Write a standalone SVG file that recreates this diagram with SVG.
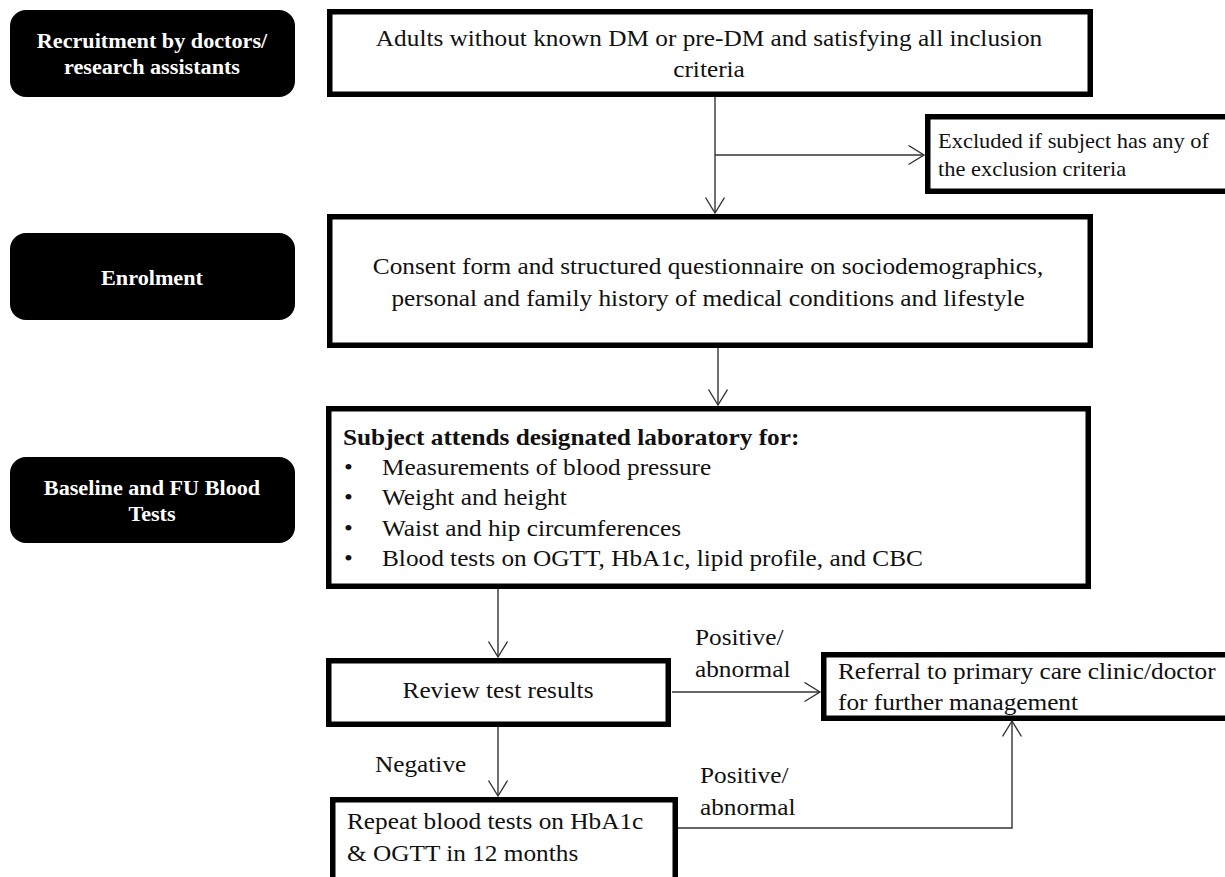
<svg xmlns="http://www.w3.org/2000/svg" width="1225" height="877" viewBox="0 0 1225 877">
<defs>
<style>
.lab{fill:#000}
.labt{fill:#fff;font-family:"Liberation Serif","Times New Roman",serif;font-weight:bold;font-size:20px;text-anchor:middle}
.box{fill:#fff;stroke:#000;stroke-width:5.5}
.t{font-family:"Liberation Serif","Times New Roman",serif;font-size:23px;fill:#111}
.s{font-size:20.4px}
.tc{text-anchor:middle}
.b{font-weight:bold}
.c{fill:none;stroke:#333;stroke-width:1.4}
</style>
<marker id="ah" markerUnits="userSpaceOnUse" markerWidth="20" markerHeight="22" refX="16" refY="10" orient="auto">
<path d="M0.5,0.5 L16,10 L0.5,19.5" fill="none" stroke="#333" stroke-width="1.4"/>
</marker>
</defs>
<rect width="1225" height="877" fill="#fff"/>

<g id="lab-recruit">
<rect class="lab" x="10" y="10" width="285" height="87" rx="16"/>
<text class="labt" transform="translate(152 48) scale(1.11 1)">Recruitment by doctors/</text>
<text class="labt" transform="translate(152 74) scale(1.11 1)">research assistants</text>
</g>
<g id="lab-enrol">
<rect class="lab" x="10" y="233" width="285" height="87" rx="16"/>
<text class="labt" transform="translate(152 285) scale(1.11 1)">Enrolment</text>
</g>
<g id="lab-baseline">
<rect class="lab" x="10" y="457" width="285" height="86" rx="16"/>
<text class="labt" transform="translate(152 495) scale(1.11 1)">Baseline and FU Blood</text>
<text class="labt" transform="translate(152 521) scale(1.11 1)">Tests</text>
</g>

<g id="n-adults">
<rect class="box" x="329.75" y="11.75" width="760.5" height="82.5"/>
<text class="t tc" transform="translate(709 46) scale(1.1 1)">Adults without known DM or pre-DM and satisfying all inclusion</text>
<text class="t tc" transform="translate(709 77) scale(1.1 1)">criteria</text>
</g>
<g id="n-excluded">
<rect class="box" x="927.75" y="116.75" width="320" height="74.5"/>
<text class="t s" transform="translate(938 148) scale(1.1 1)">Excluded if subject has any of</text>
<text class="t s" transform="translate(938 176) scale(1.1 1)">the exclusion criteria</text>
</g>
<g id="n-consent">
<rect class="box" x="329.75" y="216.75" width="760.5" height="128.5"/>
<text class="t tc" transform="translate(708 274) scale(1.1 1)">Consent form and structured questionnaire on sociodemographics,</text>
<text class="t tc" transform="translate(708 306) scale(1.1 1)">personal and family history of medical conditions and lifestyle</text>
</g>
<g id="n-lab">
<rect class="box" x="328.75" y="408.75" width="759.5" height="177.5"/>
<text class="t b" transform="translate(343 445) scale(1.1 1)">Subject attends designated laboratory for:</text>
<text class="t" transform="translate(344 475) scale(1.1 1)">•</text><text class="t" transform="translate(382 475) scale(1.1 1)">Measurements of blood pressure</text>
<text class="t" transform="translate(344 505) scale(1.1 1)">•</text><text class="t" transform="translate(382 505) scale(1.1 1)">Weight and height</text>
<text class="t" transform="translate(344 536) scale(1.1 1)">•</text><text class="t" transform="translate(382 536) scale(1.1 1)">Waist and hip circumferences</text>
<text class="t" transform="translate(344 566) scale(1.1 1)">•</text><text class="t" transform="translate(382 566) scale(1.1 1)">Blood tests on OGTT, HbA1c, lipid profile, and CBC</text>
</g>
<g id="n-review">
<rect class="box" x="328.75" y="660.75" width="339.5" height="63.5"/>
<text class="t tc" transform="translate(498 698) scale(1.1 1)">Review test results</text>
</g>
<g id="n-referral">
<rect class="box" x="823.75" y="654.75" width="420" height="63.5"/>
<text class="t" transform="translate(838 679) scale(1.1 1)">Referral to primary care clinic/doctor</text>
<text class="t" transform="translate(838 710) scale(1.1 1)">for further management</text>
</g>
<g id="n-repeat">
<rect class="box" x="332.75" y="799.75" width="342.5" height="100"/>
<text class="t" transform="translate(347 829) scale(1.1 1)">Repeat blood tests on HbA1c</text>
<text class="t" transform="translate(347 861) scale(1.1 1)">&amp; OGTT in 12 months</text>
</g>

<g id="connectors">
<line class="c" x1="715" y1="97" x2="715" y2="213" marker-end="url(#ah)"/>
<line class="c" x1="715" y1="155" x2="924" y2="155" marker-end="url(#ah)"/>
<line class="c" x1="718" y1="348" x2="718" y2="405" marker-end="url(#ah)"/>
<line class="c" x1="498" y1="589" x2="498" y2="657" marker-end="url(#ah)"/>
<line class="c" x1="672" y1="692" x2="820" y2="692" marker-end="url(#ah)"/>
<line class="c" x1="498" y1="727" x2="498" y2="796" marker-end="url(#ah)"/>
<polyline class="c" points="678,828 1012,828 1012,721" marker-end="url(#ah)"/>
<text class="t" transform="translate(695 645) scale(1.1 1)">Positive/</text>
<text class="t" transform="translate(695 677) scale(1.1 1)">abnormal</text>
<text class="t" transform="translate(375 772) scale(1.1 1)">Negative</text>
<text class="t" transform="translate(700 783) scale(1.1 1)">Positive/</text>
<text class="t" transform="translate(700 815) scale(1.1 1)">abnormal</text>
</g>
</svg>
